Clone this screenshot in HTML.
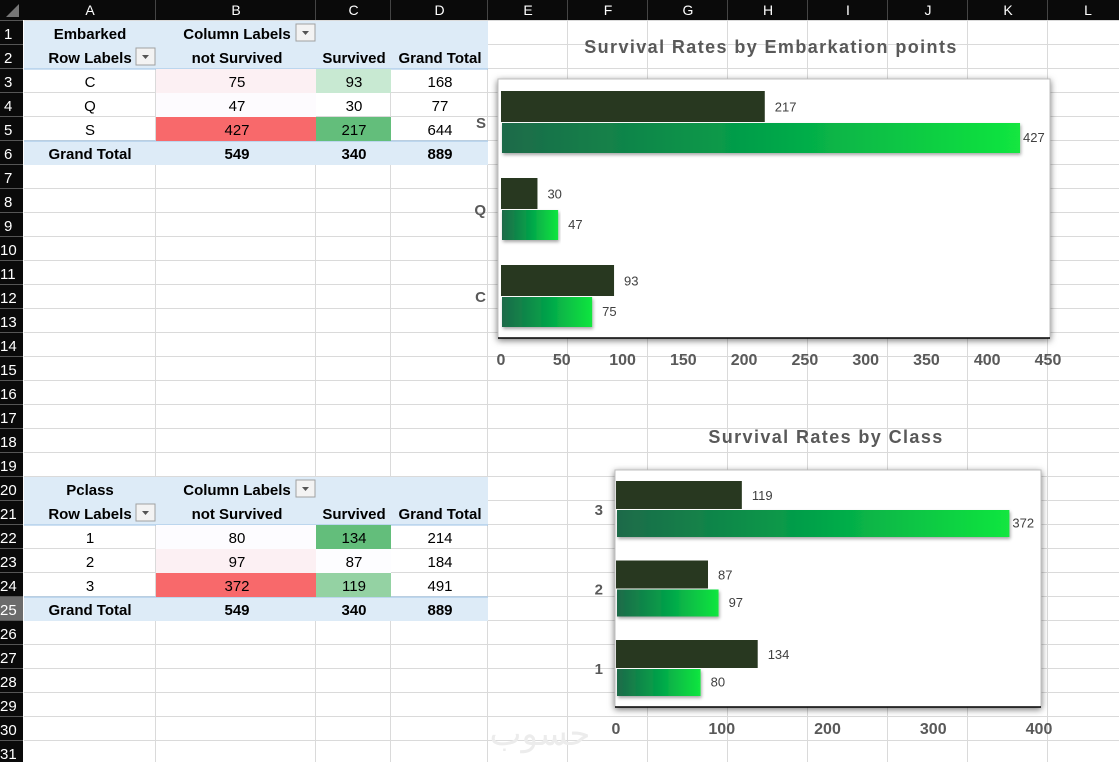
<!DOCTYPE html>
<html><head><meta charset="utf-8">
<style>
body{margin:0;width:1119px;height:762px;overflow:hidden;background:#fff;font-family:"Liberation Sans",sans-serif}
svg{display:block}
</style></head>
<body>
<svg id="s" width="1119" height="762" xmlns="http://www.w3.org/2000/svg">
<defs>
<linearGradient id="gg" x1="0" x2="1" y1="0" y2="0"><stop offset="0" stop-color="#1d6a4a"/><stop offset="0.5" stop-color="#03a24a"/><stop offset="1" stop-color="#12e63f"/></linearGradient>
<filter id="sh" x="-5%" y="-5%" width="110%" height="115%"><feDropShadow dx="0" dy="2" stdDeviation="3.5" flood-color="#000" flood-opacity="0.55"/></filter>
<filter id="bs" x="-5%" y="-20%" width="110%" height="150%"><feDropShadow dx="1" dy="2" stdDeviation="1.5" flood-color="#000" flood-opacity="0.35"/></filter>
</defs>
<g id="grid"></g>
<g id="tables"></g>
<g id="chart1"></g>
<g id="chart2"></g>
<text x="540" y="745" font-size="34" fill="#ececec" text-anchor="middle" font-family="'Liberation Sans','Noto Sans CJK SC',sans-serif">حسوب</text>
<g id="hdr"></g>
</svg>
<script>
// chart data
const embCats = ["S","Q","C"];
const embSurvived = [217,30,93];
const embNotSurvived = [427,47,75];
const embTicks = [0,50,100,150,200,250,300,350,400,450];
const clsCats = ["3","2","1"];
const clsSurvived = [119,87,134];
const clsNotSurvived = [372,97,80];
const clsTicks = [0,100,200,300,400];

const NS="http://www.w3.org/2000/svg";
function mk(parent,tag,attrs,txt){const e=document.createElementNS(NS,tag);for(const k in attrs)e.setAttribute(k,attrs[k]);if(txt!==undefined)e.textContent=txt;parent.appendChild(e);return e;}
const colX=[24,156,316,391,488,568,648,728,808,888,968,1048,1128];
const colL=["A","B","C","D","E","F","G","H","I","J","K","L"];
const rowTop=r=>21+24*(r-1);
const grid=document.getElementById('grid');
for(let i=1;i<colX.length;i++) mk(grid,'line',{x1:colX[i]-0.5,y1:20,x2:colX[i]-0.5,y2:762,stroke:'#dadada'});
for(let r=1;r<=32;r++) mk(grid,'line',{x1:24,y1:rowTop(r)-0.5,x2:1119,y2:rowTop(r)-0.5,stroke:'#dadada'});

const tb=document.getElementById('tables');
function cellFill(c,r,col){mk(tb,'rect',{x:colX[c],y:rowTop(r),width:colX[c+1]-colX[c],height:24,fill:col});}
function txt(x,y,s,bold,anchor){const t=mk(tb,'text',{x:x,y:y,'font-size':15,'font-weight':bold?'bold':'normal','text-anchor':anchor||'middle',fill:'#000'},s);return t;}
function pivot(r0,title,rows,fills,tot,nm){
  const g=mk(tb,'g',{});
  
  
  mk(tb,'rect',{x:24,y:rowTop(r0),width:464,height:48,fill:'#ddebf7'});
  mk(tb,'rect',{x:24,y:rowTop(r0+5),width:464,height:24,fill:'#ddebf7'});
  mk(tb,'line',{x1:24,y1:rowTop(r0+2),x2:488,y2:rowTop(r0+2),stroke:'#9bc2e6'});
  mk(tb,'line',{x1:24,y1:rowTop(r0+5),x2:488,y2:rowTop(r0+5),stroke:'#9bc2e6'});
  rows.forEach((rw,i)=>{for(let c=1;c<=2;c++) if(fills[i][c-1]) cellFill(c,r0+2+i,fills[i][c-1]);});
  const cy=r=>rowTop(r)+18;
  txt(90,cy(r0),title,true);
  txt(237,cy(r0),"Column Labels",true);
  txt(90,cy(r0+1),"Row Labels",true);
  txt(237,cy(r0+1),"not Survived",true);
  txt(354,cy(r0+1),"Survived",true);
  txt(440,cy(r0+1),"Grand Total",true);
  [[296,r0],[136,r0+1]].forEach(([x,r])=>{
    const b=mk(tb,'rect',{x:x,y:rowTop(r)+3,width:19,height:17,fill:'#f3f3f3',stroke:'#a0a0a0'});
    
    
    mk(tb,'path',{d:`M${x+6} ${rowTop(r)+10}h7l-3.5 4z`,fill:'#555'});
  });
  rows.forEach((rw,i)=>{const y=cy(r0+2+i);txt(90,y,rw[0]);txt(237,y,rw[1]);txt(354,y,rw[2]);txt(440,y,rw[3]);});
  const y=cy(r0+5);txt(90,y,"Grand Total",true);txt(237,y,tot[0],true);txt(354,y,tot[1],true);txt(440,y,tot[2],true);
}
pivot(1,"Embarked",[["C","75","93","168"],["Q","47","30","77"],["S","427","217","644"]],
 [["#fcf0f3","#c8e9d2"],["#fdfbfe",null],["#f8696b","#63be7b"]],["549","340","889"],"embarked-pivot-table");
pivot(20,"Pclass",[["1","80","134","214"],["2","97","87","184"],["3","372","119","491"]],
 [["#fdfcff","#63be7b"],["#fcf0f3","#fdfdff"],["#f8696b","#94d2a3"]],["549","340","889"],"pclass-pivot-table");

// headers
const hd=document.getElementById('hdr');
mk(hd,'rect',{x:0,y:0,width:1119,height:20,fill:'#0a0a0a'});
mk(hd,'rect',{x:0,y:0,width:23,height:762,fill:'#0a0a0a'});
mk(hd,'path',{d:'M19 4 L19 17 L6 17 Z',fill:'#777'});
colL.forEach((l,i)=>{mk(hd,'line',{x1:colX[i+1]-0.5,y1:0,x2:colX[i+1]-0.5,y2:20,stroke:'#444'});
 const t=mk(hd,'text',{x:(colX[i]+Math.min(colX[i+1],1130))/2,y:15,'font-size':14,fill:'#fff','text-anchor':'middle'},l);
 });
for(let r=1;r<=31;r++){
 if(r===25) mk(hd,'rect',{x:0,y:rowTop(r),width:23,height:24,fill:'#6b6b6b'});
 mk(hd,'line',{x1:0,y1:rowTop(r)-0.5,x2:23,y2:rowTop(r)-0.5,stroke:'#555'});
 const t=mk(hd,'text',{x:r<10?4:0,y:rowTop(r)+18,'font-size':15,fill:'#fff'},String(r));
 
}

function barChart(gid,nm,title,titleX,titleY,box,x0,xMax,xPx,cats,sv,nsv,ticks,cy0,band,hd,hg,tickY){
 const g=document.getElementById(gid);
 
 
 const xs=v=>x0+v/xMax*xPx;
 const t=mk(g,'text',{x:titleX,y:titleY,'font-size':18,'font-weight':'bold','letter-spacing':1.4,fill:'#595959','text-anchor':'middle'},title);
 
 const pa=mk(g,'rect',{x:box[0],y:box[1],width:box[2]-box[0],height:box[3]-box[1],fill:'#fff',stroke:'#bfbfbf',filter:'url(#sh)'});
 
 mk(g,'line',{x1:box[0],y1:box[3],x2:box[2],y2:box[3],stroke:'#000','stroke-width':1.5});
 cats.forEach((c,i)=>{
  const cy=cy0+i*band;
  const b1=mk(g,'rect',{x:xs(0),y:cy-hd,width:xs(sv[i])-xs(0),height:hd,fill:'#283820'});
  
  const b2=mk(g,'rect',{x:xs(0)+1,y:cy+1,width:xs(nsv[i])-xs(0)-1,height:hg,fill:'url(#gg)',filter:'url(#bs)'});
  
  const l1=mk(g,'text',{x:xs(sv[i])+10,y:cy-hd/2+5,'font-size':13,fill:'#404040'},sv[i]);
  
  const l2=mk(g,'text',{x:xs(nsv[i])+(nsv[i]>350?3:10),y:cy+hg/2+5,'font-size':13,fill:'#404040'},nsv[i]);
  
  const cl=mk(g,'text',{x:box[0]-12,y:cy+6,'font-size':15,'font-weight':'bold',fill:'#595959','text-anchor':'end'},c);
  
 });
 ticks.forEach(v=>{const tl=mk(g,'text',{x:xs(v),y:tickY,'font-size':16,'font-weight':'bold',fill:'#595959','text-anchor':'middle'},v);
  });
}
barChart('chart1','embarkation-chart','Survival Rates by Embarkation points',771,53,[498,79,1050,338],501,450,547,embCats,embSurvived,embNotSurvived,embTicks,122,87,31,30,365);
barChart('chart2','class-chart','Survival Rates by Class',826,443,[615,470,1041,707],616,400,423,clsCats,clsSurvived,clsNotSurvived,clsTicks,509,79.5,28,27,734);
</script>
</body></html>
